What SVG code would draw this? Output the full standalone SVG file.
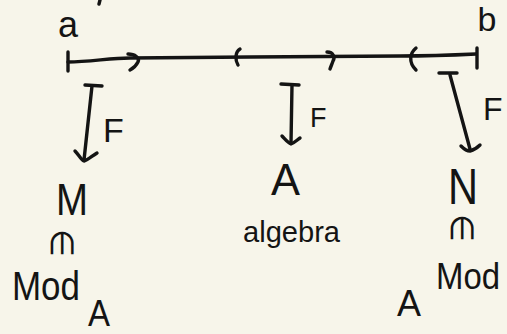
<svg xmlns="http://www.w3.org/2000/svg" width="507" height="334" viewBox="0 0 507 334">
  <style>
    .ink { fill: none; stroke: #141414; stroke-width: 3.4; stroke-linecap: round; stroke-linejoin: round; }
    .lbl { fill: #141414; font-family: "Liberation Sans", "DejaVu Sans", sans-serif; }
    .mid { text-anchor: middle; }
  </style>
  <rect width="507" height="334" fill="#f7f5ea"/>

  <!-- interval [a, b] covered by open sets -->
  <g id="interval">
    <path class="ink" d="M100,0 L99,4"/>
    <text class="lbl mid" x="68" y="37" font-size="36">a</text>
    <text class="lbl mid" x="487" y="31" font-size="34">b</text>
    <path class="ink" d="M68,62 C90,62 110,58 130,58 L250,57 L400,56 C430,56 455,55 476,54"/>
    <path class="ink" d="M68,52 L68,71"/>
    <path class="ink" d="M477,48 L477,68"/>
    <path class="ink" d="M128,54 C135,54 140,58 138,62 C136,66 132,69 130,70"/>
    <path class="ink" d="M240,49 C235,52 235,60 238,65"/>
    <path class="ink" d="M327,52 C334,52 335,58 333,61 C332,64 331,66 330,69"/>
    <path class="ink" d="M416,48 C410,53 408,62 416,70"/>
  </g>

  <g id="connectors">
    <g id="arrow-left">
      <path class="ink" d="M85,85 L102,86"/>
      <path class="ink" d="M92,86 L84,160"/>
      <path class="ink" d="M75,151 C79,155 81,160 84,161 C88,160 92,156 97,153"/>
      <text class="lbl" x="103" y="142" font-size="34">F</text>
    </g>
    <g id="arrow-mid">
      <path class="ink" d="M281,84 L299,85"/>
      <path class="ink" d="M292,85 L291,143"/>
      <path class="ink" d="M282,136 C285,139 288,143 291,144 C294,143 297,140 300,138"/>
      <text class="lbl" x="310" y="127" font-size="27">F</text>
    </g>
    <g id="arrow-right">
      <path class="ink" d="M439,73 L457,73"/>
      <path class="ink" d="M450,75 L470,149"/>
      <path class="ink" d="M461,146 C464,149 467,151 470,151 C474,150 477,148 480,145"/>
      <text class="lbl" x="483" y="120" font-size="32">F</text>
    </g>
  </g>

  <g id="node-left">
    <text class="lbl" x="56" y="215" font-size="44" textLength="32" lengthAdjust="spacingAndGlyphs">M</text>
    <text class="lbl mid" x="62" y="243" font-size="32" dominant-baseline="central" transform="rotate(90 62 243)">∈</text>
    <text class="lbl" x="12" y="300" font-size="40" textLength="68" lengthAdjust="spacingAndGlyphs">Mod</text>
    <text class="lbl" x="88" y="326" font-size="36" textLength="22" lengthAdjust="spacingAndGlyphs">A</text>
  </g>

  <g id="node-mid">
    <text class="lbl" x="271" y="195" font-size="44" textLength="29" lengthAdjust="spacingAndGlyphs">A</text>
    <text class="lbl" x="243" y="242" font-size="30" textLength="97" lengthAdjust="spacingAndGlyphs">algebra</text>
  </g>

  <g id="node-right">
    <text class="lbl" x="448" y="204" font-size="50" textLength="30" lengthAdjust="spacingAndGlyphs">N</text>
    <text class="lbl mid" x="462" y="228" font-size="32" dominant-baseline="central" transform="rotate(90 462 228)">∈</text>
    <text class="lbl" x="436" y="289" font-size="36" textLength="64" lengthAdjust="spacingAndGlyphs">Mod</text>
    <text class="lbl" x="397" y="316" font-size="36" textLength="24" lengthAdjust="spacingAndGlyphs">A</text>
  </g>
</svg>
